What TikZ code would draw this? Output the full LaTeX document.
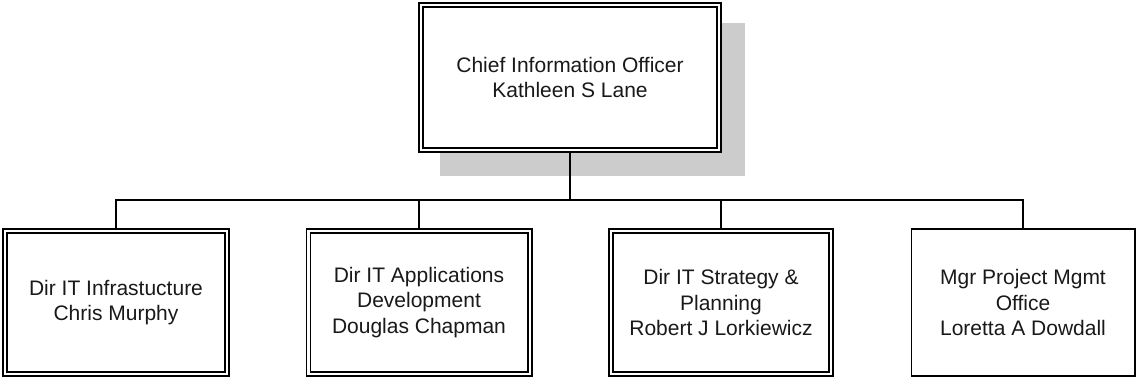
\documentclass[tikz,border=0pt]{standalone}
\usepackage{fontspec}
\setmainfont{Liberation Sans}
\begin{document}
\begin{tikzpicture}[x=1pt,y=-1pt,
  lbl/.style={align=center,font=\fontsize{21}{25.5}\selectfont,text=black!90},
  dbox/.style={lbl,draw=black,line width=1.7pt,double=white,double distance=2.3pt,fill=white,
    inner sep=0pt,outer sep=2.85pt,minimum width=221pt,minimum height=143.3pt},
  sbox/.style={lbl,draw=black,line width=1.8pt,fill=white,
    inner sep=0pt,outer sep=0.9pt,minimum width=223.2pt,minimum height=147.2pt},
  conn/.style={draw=black,line width=2pt},
  shadowbox/.style={fill=black!20,draw=none}]
\useasboundingbox (0,0) rectangle (1136,379);
% shadow of top box
\fill[shadowbox] (440,23) rectangle (745,176);
% nodes
\node[dbox,minimum width=298.3pt,minimum height=145.3pt] (cio) at (570,77.5)
  {Chief Information Officer\\Kathleen S Lane};
\node[dbox,minimum width=222.3pt] (b1) at (116,302.5)
  {Dir IT Infrastucture\\Chris Murphy};
\node[dbox,minimum width=221.3pt] (b2) at (419,302.5)
  {Dir IT Applications\\Development\\Douglas Chapman};
\node[dbox,minimum width=220.3pt] (b3) at (721,302.5)
  {Dir IT Strategy \&\\Planning\\Robert J Lorkiewicz};
\node[sbox] (b4) at (1023,302.5)
  {Mgr Project Mgmt\\Office\\Loretta A Dowdall};
% connectors
\coordinate (bus) at (570,200);
\draw[conn] (cio.south) -- (bus);
\foreach \b in {b1,b2,b3,b4} \draw[conn] (bus) -| (\b.north);
\end{tikzpicture}
\end{document}
